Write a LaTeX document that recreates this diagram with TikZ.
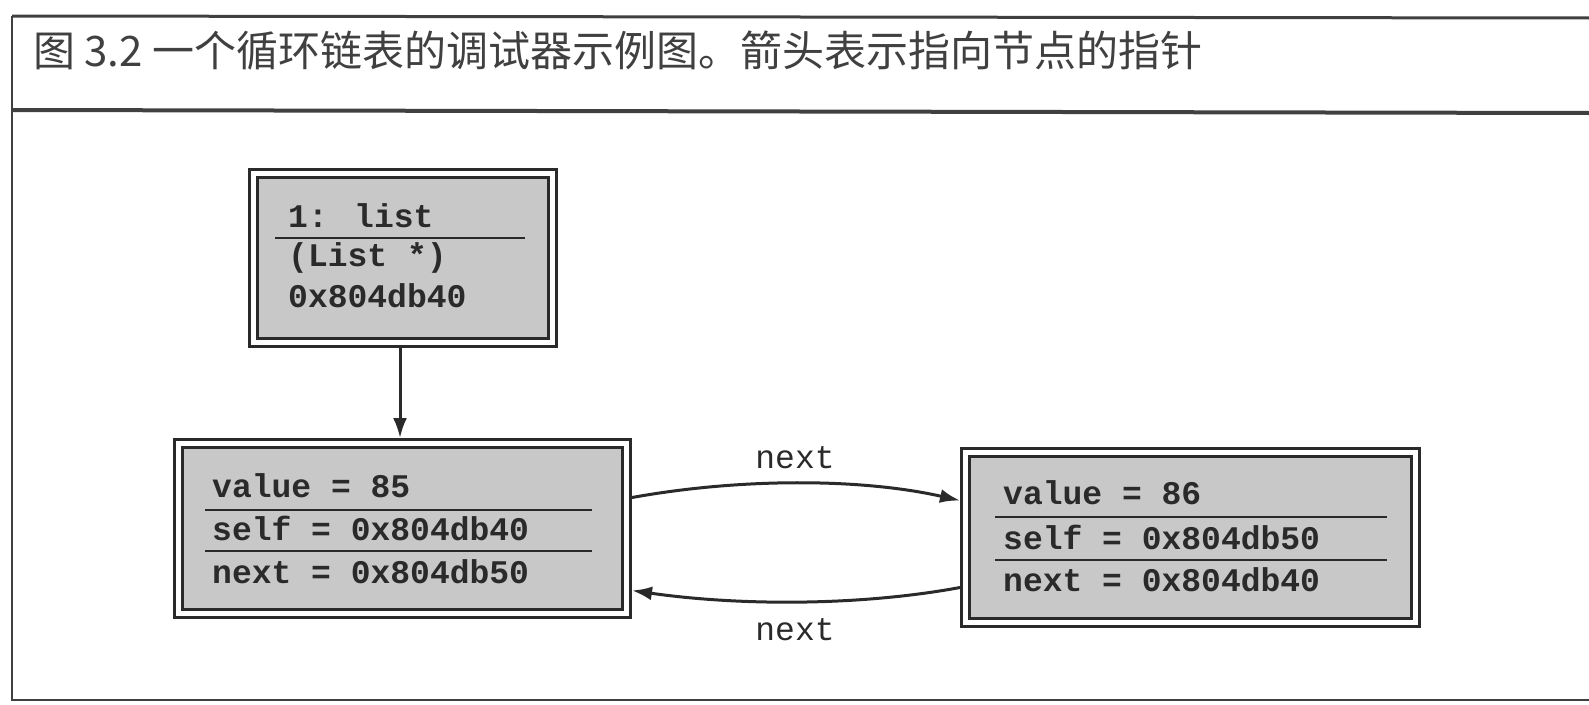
\documentclass[tikz,border=0pt]{standalone}
\usepackage{fontspec}
\newfontfamily\cjk{Noto Sans CJK SC}
\newfontfamily\mono{Liberation Mono}
\usetikzlibrary{arrows.meta,calc}
\definecolor{boxfill}{HTML}{C8C8C8}
\definecolor{ink}{HTML}{2A2A2A}
\tikzset{
  membox/.style={draw=ink, double=white, double distance=5pt, line width=3pt,
    fill=boxfill, rectangle, inner sep=0pt, outer sep=5.5pt},
  field/.style={anchor=west, inner sep=0pt, font=\mono\bfseries\fontsize{33}{36}\selectfont, text=ink},
  lbl/.style={inner sep=0pt, font=\mono\fontsize{33}{36}\selectfont, text=ink},
  sep/.style={draw=ink, line width=2.5pt},
  conn/.style={draw=ink, line width=3pt, -{Latex[length=20pt,width=14pt]}},
  frame/.style={draw=black!75, line width=2pt}
}
\begin{document}
\begin{tikzpicture}[x=1pt,y=-1pt]
\useasboundingbox (0,0) rectangle (1589,704);
% frame
\draw[frame, line width=3pt] (12,16) -- (1589,18);
\draw[frame, line width=4pt] (12,110) -- (1589,113);
\draw[frame] (12,16) -- (12,700) -- (1589,700);
\node[anchor=west, inner sep=0pt, font=\cjk\fontsize{42}{46}\selectfont, text=black!75] (title) at (33,51)
  {图 3.2 一个循环链表的调试器示例图。箭头表示指向节点的指针};
% boxes
\node[membox, minimum width=299pt, minimum height=169pt] (list) at (403,258) {};
\node[membox, minimum width=448pt, minimum height=170pt] (n85) at (402.5,528.5) {};
\node[membox, minimum width=450pt, minimum height=170pt] (n86) at (1190.5,537.5) {};
% list box content
\node[field] (l1) at (288,216) {1: list};
\draw[sep] (275,238) -- (525,238);
\node[field] (l2) at (288,258) {(List *)};
\node[field] (l3) at (288,296) {0x804db40};
% node 85
\node[field] (a1) at (212,486) {value = 85};
\draw[sep] (205,510) -- (592,510);
\node[field] (a2) at (212,528) {self = 0x804db40};
\draw[sep] (205,551) -- (592,551);
\node[field] (a3) at (212,572) {next = 0x804db50};
% node 86
\node[field] (b1) at (1003,493) {value = 86};
\draw[sep] (995,517) -- (1387,517);
\node[field] (b2) at (1003,537) {self = 0x804db50};
\draw[sep] (995,560) -- (1387,560);
\node[field] (b3) at (1003,580) {next = 0x804db40};
% connectors
\draw[conn] (list.south -| 400,0) -- (n85.north -| 400,0);
\draw[conn] ($(n85.east)+(0,-31)$) .. controls (740,478) and (860,478) .. ($(n86.west)+(0,-37)$);
\draw[conn] ($(n86.west)+(0,50)$) .. controls (860,606) and (740,606) .. ($(n85.east)+(0,62)$);
\node[lbl] (t1) at (795,458) {next};
\node[lbl] (t2) at (795,630) {next};
\end{tikzpicture}
\end{document}
